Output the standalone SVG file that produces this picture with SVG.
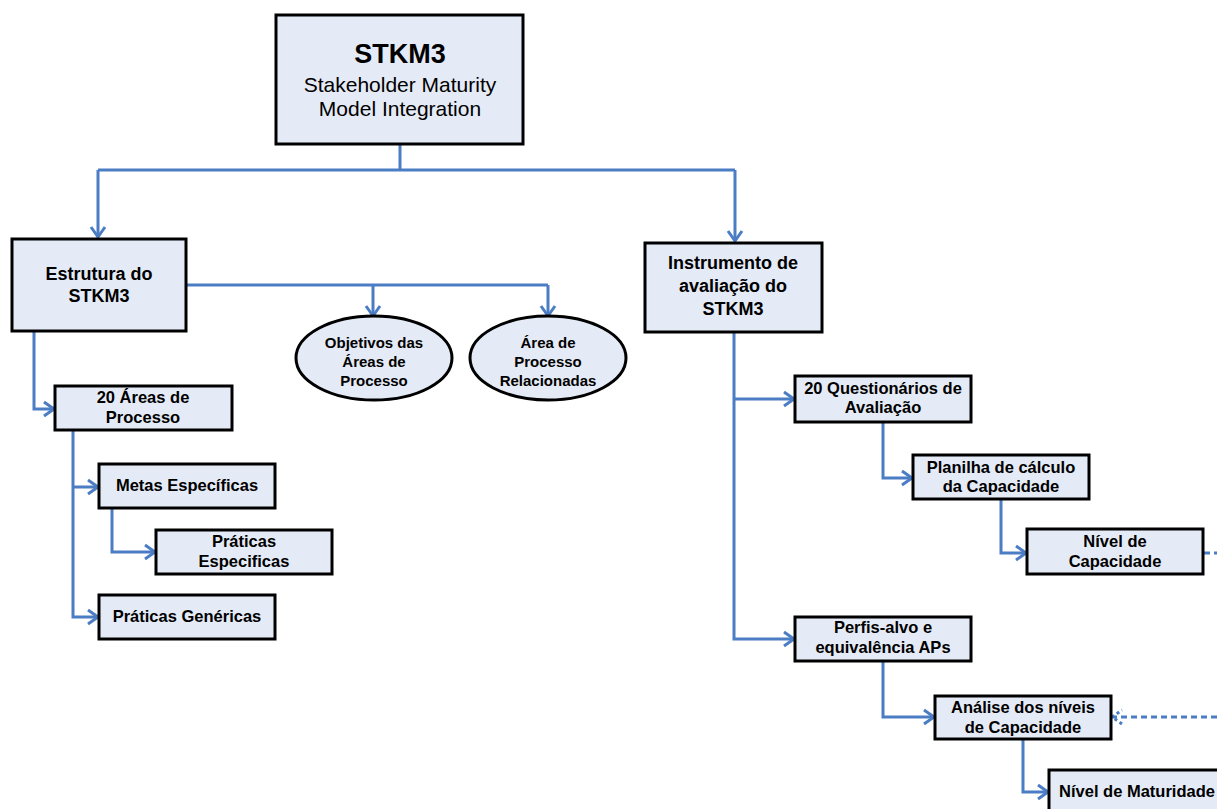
<svg xmlns="http://www.w3.org/2000/svg" width="1217" height="809" viewBox="0 0 1217 809">
  <style>
    .box { fill: #E5EBF6; stroke: #000; stroke-width: 3; }
    .t { font-family: "Liberation Sans", Arial, sans-serif; font-weight: bold; fill: #000; text-anchor: middle; }
    .sm { font-size: 16.5px; }
    .md { font-size: 18px; }
    .el { font-size: 15px; }
    .conn { fill: none; stroke: #4A7DC4; stroke-width: 3; }
    .dash { stroke-dasharray: 6 4; }
  </style>
  <defs>
    <marker id="arr" markerUnits="userSpaceOnUse" markerWidth="14" markerHeight="18" refX="11" refY="8" orient="auto" overflow="visible">
      <path d="M1,1 L11,8 L1,15" fill="none" stroke="#4A7DC4" stroke-width="3"/>
    </marker>
    <marker id="arrDash" markerUnits="userSpaceOnUse" markerWidth="14" markerHeight="18" refX="11" refY="8" orient="auto" overflow="visible">
      <path d="M1,1 L11,8 L1,15" fill="none" stroke="#4A7DC4" stroke-width="3" stroke-dasharray="3 3"/>
    </marker>
  </defs>

  <!-- connectors -->
  <g id="connectors">
    <path class="conn" d="M400,145 V170"/>
    <path class="conn" d="M98,170 H735"/>
    <path class="conn" d="M98,170 V237" marker-end="url(#arr)"/>
    <path class="conn" d="M735,170 V241" marker-end="url(#arr)"/>

    <path class="conn" d="M186,285 H548"/>
    <path class="conn" d="M373,285 V316" marker-end="url(#arr)"/>
    <path class="conn" d="M548,285 V316" marker-end="url(#arr)"/>

    <path class="conn" d="M34,331 V409 H54" marker-end="url(#arr)"/>
    <path class="conn" d="M73,430 V617 H98" marker-end="url(#arr)"/>
    <path class="conn" d="M73,487 H98" marker-end="url(#arr)"/>
    <path class="conn" d="M112,508 V552 H155" marker-end="url(#arr)"/>

    <path class="conn" d="M734,332 V639 H794" marker-end="url(#arr)"/>
    <path class="conn" d="M734,399 H794" marker-end="url(#arr)"/>
    <path class="conn" d="M883,422 V478 H912" marker-end="url(#arr)"/>
    <path class="conn" d="M1001,499 V553 H1026" marker-end="url(#arr)"/>
    <path class="conn dash" d="M1204,553 H1217"/>

    <path class="conn" d="M883,661 V717 H934" marker-end="url(#arr)"/>
    <path class="conn dash" d="M1217,717 H1112" marker-end="url(#arrDash)"/>
    <path class="conn" d="M1023,739 V792 H1048" marker-end="url(#arr)"/>
  </g>

  <!-- root -->
  <g id="stkm3">
    <rect class="box" x="276" y="15" width="247" height="129"/>
    <text class="t" x="400" y="63" font-size="27">STKM3</text>
    <text class="t" x="400" y="92" font-size="21" font-weight="normal" style="font-weight:normal">Stakeholder Maturity</text>
    <text class="t" x="400" y="116" font-size="21" style="font-weight:normal">Model Integration</text>
  </g>

  <g id="estrutura">
    <rect class="box" x="12" y="239" width="174" height="92"/>
    <text class="t md" x="99" y="280">Estrutura do</text>
    <text class="t md" x="99" y="302">STKM3</text>
  </g>

  <g id="objetivos">
    <ellipse class="box" cx="374" cy="358" rx="78" ry="42"/>
    <text class="t el" x="374" y="348">Objetivos das</text>
    <text class="t el" x="374" y="367">Áreas de</text>
    <text class="t el" x="374" y="386">Processo</text>
  </g>

  <g id="relacionadas">
    <ellipse class="box" cx="548" cy="358" rx="78" ry="42"/>
    <text class="t el" x="548" y="348">Área de</text>
    <text class="t el" x="548" y="367">Processo</text>
    <text class="t el" x="548" y="386">Relacionadas</text>
  </g>

  <g id="areas">
    <rect class="box" x="55" y="386" width="177" height="44"/>
    <text class="t sm" x="143" y="403">20 Áreas de</text>
    <text class="t sm" x="143" y="423">Processo</text>
  </g>

  <g id="metas">
    <rect class="box" x="99" y="464" width="176" height="44"/>
    <text class="t sm" x="187" y="491">Metas Específicas</text>
  </g>

  <g id="praticas-especificas">
    <rect class="box" x="156" y="530" width="176" height="44"/>
    <text class="t sm" x="244" y="547">Práticas</text>
    <text class="t sm" x="244" y="567">Especificas</text>
  </g>

  <g id="praticas-genericas">
    <rect class="box" x="99" y="595" width="176" height="44"/>
    <text class="t sm" x="187" y="622">Práticas Genéricas</text>
  </g>

  <g id="instrumento">
    <rect class="box" x="645" y="243" width="177" height="89"/>
    <text class="t md" x="733" y="269">Instrumento de</text>
    <text class="t md" x="733" y="292">avaliação do</text>
    <text class="t md" x="733" y="315">STKM3</text>
  </g>

  <g id="questionarios">
    <rect class="box" x="795" y="376" width="176" height="46"/>
    <text class="t sm" x="883" y="394">20 Questionários de</text>
    <text class="t sm" x="883" y="413">Avaliação</text>
  </g>

  <g id="planilha">
    <rect class="box" x="913" y="455" width="176" height="44"/>
    <text class="t sm" x="1001" y="473">Planilha de cálculo</text>
    <text class="t sm" x="1001" y="492">da Capacidade</text>
  </g>

  <g id="nivel-capacidade">
    <rect class="box" x="1027" y="529" width="176" height="45"/>
    <text class="t sm" x="1115" y="547">Nível de</text>
    <text class="t sm" x="1115" y="567">Capacidade</text>
  </g>

  <g id="perfis">
    <rect class="box" x="795" y="617" width="176" height="44"/>
    <text class="t sm" x="883" y="633">Perfis-alvo e</text>
    <text class="t sm" x="883" y="653">equivalência APs</text>
  </g>

  <g id="analise">
    <rect class="box" x="935" y="696" width="176" height="43"/>
    <text class="t sm" x="1023" y="713">Análise dos níveis</text>
    <text class="t sm" x="1023" y="733">de Capacidade</text>
  </g>

  <g id="nivel-maturidade">
    <rect class="box" x="1049" y="770" width="176" height="46"/>
    <text class="t sm" x="1137" y="797">Nível de Maturidade</text>
  </g>
</svg>
